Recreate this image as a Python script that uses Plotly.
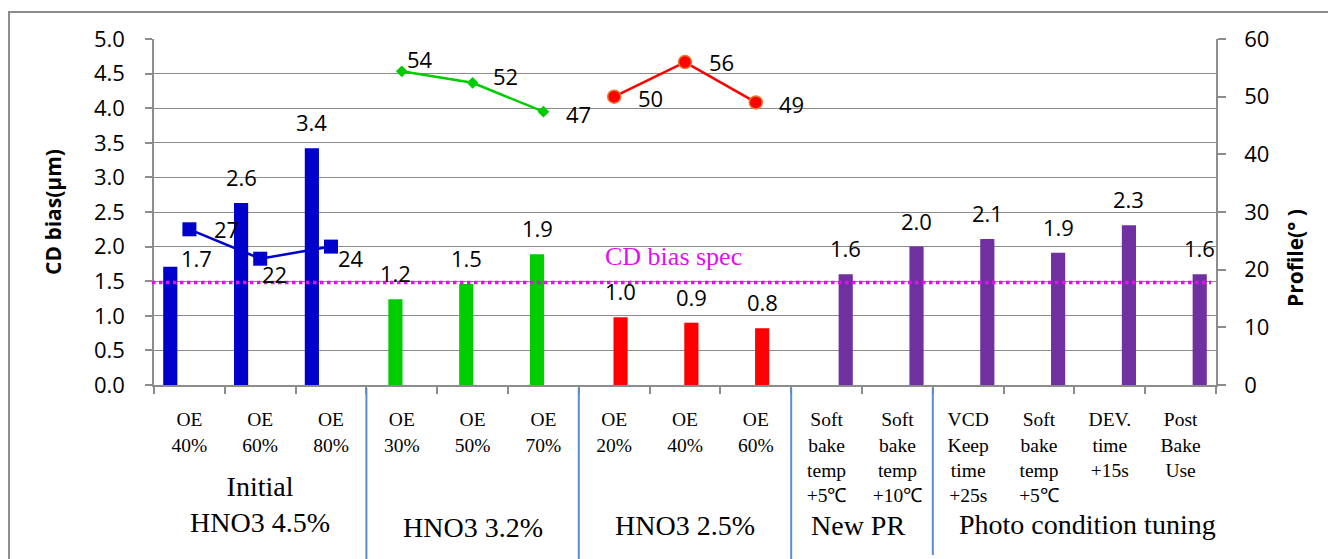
import plotly.graph_objects as go

# ---------------- data ----------------
categories = [
    "OE<br>40%", "OE<br>60%", "OE<br>80%",
    "OE<br>30%", "OE<br>50%", "OE<br>70%",
    "OE<br>20%", "OE<br>40%", "OE<br>60%",
    "Soft<br>bake<br>temp<br>+5℃", "Soft<br>bake<br>temp<br>+10℃",
    "VCD<br>Keep<br>time<br>+25s", "Soft<br>bake<br>temp<br>+5℃",
    "DEV.<br>time<br>+15s", "Post<br>Bake<br>Use",
]
group_names = ["Initial<br>HNO3 4.5%", "HNO3 3.2%", "HNO3 2.5%", "New PR", "Photo condition tuning"]
group_sizes = [3, 3, 3, 2, 4]

cd_bias_hno3_45 = [1.71, 2.63, 3.42]
cd_bias_hno3_32 = [1.24, 1.46, 1.89]
cd_bias_hno3_25 = [0.98, 0.90, 0.82]
cd_bias_pr_photo = [1.60, 2.00, 2.11, 1.91, 2.31, 1.60]

profile_hno3_45 = [27, 21.9, 24]
profile_hno3_32 = [54.4, 52.4, 47.4]
profile_hno3_25 = [50, 56, 49]

cd_bias_spec = 1.48
spec_label = "CD bias spec"

# ---------------- layout constants ----------------
W, H = 1336, 559
PAGE_OFF = 8                      # default body margin of the html page
PL, PR_, PT, PB = 154, 1216, 39, 385   # plot area in page pixels
L, T = PL - PAGE_OFF, PT - PAGE_OFF
R, B = W - (PR_ - PAGE_OFF), H - (PB - PAGE_OFF)
PW, PH = PR_ - PL, PB - PT
BARGAP = 0.28
N_BAR = 4
SLOT = (1 - BARGAP) / N_BAR
BAR_W = 0.2

NUM_FONT = "Open Sans"
SERIF = "Liberation Serif"


def pxx(px):
    return (px - PL) / PW


def pxy(py):
    return (PB - py) / PH


starts = [sum(group_sizes[:i]) for i in range(len(group_sizes))]
idx_g = [list(range(s, s + n)) for s, n in zip(starts, group_sizes)]
idx_pr_photo = idx_g[3] + idx_g[4]

bar_series = [
    (cd_bias_hno3_45, idx_g[0], "#0000CC"),
    (cd_bias_hno3_32, idx_g[1], "#00CC00"),
    (cd_bias_hno3_25, idx_g[2], "#FF0000"),
    (cd_bias_pr_photo, idx_pr_photo, "#7030A0"),
]
line_series = [
    (profile_hno3_45, idx_g[0], "#0000CC", "square", 14, "#0000CC", 0),
    (profile_hno3_32, idx_g[1], "#00CC00", "diamond", 9, "#00CC00", 0),
    (profile_hno3_25, idx_g[2], "#FF0000", "circle", 13, "#E8782A", 1.5),
]

# label nudges (px) : style only
bar_nudge = {(0, 0): (26, -17)}
line_nudge = {
    (0, 0): (37, 0), (0, 1): (14, -15), (0, 2): (20, -11),
    (1, 0): (18, 12), (1, 1): (33, 7), (1, 2): (35, -2),
    (2, 0): (36, -1), (2, 1): (36, 0), (2, 2): (36, -2),
}

fig = go.Figure()
annotations = []

for k, (vals, idx, color) in enumerate(bar_series):
    center = -(1 - BARGAP) / 2 + SLOT * (k + 0.5)
    fig.add_trace(go.Bar(x=idx, y=vals, width=BAR_W, offset=center - BAR_W / 2,
                         marker=dict(color=color, line=dict(width=0)),
                         yaxis="y", showlegend=False, hoverinfo="x+y"))
    for j, (i, v) in enumerate(zip(idx, vals)):
        dx, dy = bar_nudge.get((k, j), (0, 0))
        annotations.append(dict(x=i + center, y=v, xref="x", yref="y", text=f"{v:.1f}",
                                showarrow=False, xanchor="center", yanchor="middle",
                                xshift=dx, yshift=26 + dy,
                                font=dict(family=NUM_FONT, size=22, color="black")))

for k, (vals, idx, color, sym, size, mline, mlw) in enumerate(line_series):
    fig.add_trace(go.Scatter(x=idx, y=vals, mode="lines+markers", yaxis="y2",
                             line=dict(color=color, width=2.5),
                             marker=dict(symbol=sym, size=size, color=color,
                                         line=dict(color=mline, width=mlw)),
                             showlegend=False))
    for j, (i, v) in enumerate(zip(idx, vals)):
        dx, dy = line_nudge.get((k, j), (36, 0))
        annotations.append(dict(x=i, y=v, xref="x", yref="y2", text=f"{v:.0f}",
                                showarrow=False, xanchor="center", yanchor="middle",
                                xshift=dx, yshift=dy,
                                font=dict(family=NUM_FONT, size=22, color="black")))

# group labels
group_label_py = [504, 527, 525, 525, 524]
group_label_dx = [0, 0, 0, -4, 13]
for g, name in enumerate(group_names):
    cx = starts[g] + (group_sizes[g] - 1) / 2
    annotations.append(dict(x=cx, y=pxy(group_label_py[g]), xref="x", yref="paper",
                            text=name, showarrow=False, xanchor="center", yanchor="middle",
                            xshift=group_label_dx[g],
                            font=dict(family=SERIF, size=28, color="black")))

# spec label
annotations.append(dict(x=6.84, y=cd_bias_spec, xref="x", yref="y", text=spec_label,
                        showarrow=False, xanchor="center", yanchor="middle", yshift=26,
                        font=dict(family=SERIF, size=26, color="#E010F0")))

# axis titles
annotations.append(dict(x=pxx(53), y=0.5, xref="paper", yref="paper", text="<b>CD bias(μm)</b>",
                        showarrow=False, textangle=-90, xanchor="center", yanchor="middle",
                        font=dict(family=NUM_FONT, size=21, color="black")))
annotations.append(dict(x=pxx(1295), y=pxy(258), xref="paper", yref="paper", text="<b>Profile(° )</b>",
                        showarrow=False, textangle=-90, xanchor="center", yanchor="middle",
                        font=dict(family=NUM_FONT, size=21, color="black")))

shapes = []
# spec line
shapes.append(dict(type="line", xref="paper", yref="y", x0=pxx(152), x1=pxx(1211),
                   y0=cd_bias_spec, y1=cd_bias_spec,
                   line=dict(color="#E010F0", width=3.5, dash="dot")))
# group dividers
div_end = [575, 575, 575, 555]
for g in range(1, len(group_sizes)):
    bx = starts[g] - 0.5
    shapes.append(dict(type="line", xref="x", yref="paper", x0=bx, x1=bx,
                       y0=pxy(388), y1=pxy(div_end[g - 1]),
                       line=dict(color="#5B8DCB", width=2)))
# outer frame
shapes.append(dict(type="rect", xref="paper", yref="paper", x0=pxx(9), x1=pxx(1360),
                   y0=pxy(600), y1=pxy(12), line=dict(color="#8C8C8C", width=2),
                   fillcolor="rgba(0,0,0,0)"))

GRID = "#8C8C8C"
fig.update_layout(
    width=W, height=H,
    margin=dict(l=L, r=R, t=T, b=B, autoexpand=False),
    paper_bgcolor="white", plot_bgcolor="white",
    barmode="overlay",
    showlegend=False,
    annotations=annotations, shapes=shapes,
    xaxis=dict(range=[-0.5, len(categories) - 0.5], tickmode="array",
               tickvals=list(range(len(categories))), ticktext=categories,
               ticks="", showgrid=False, zeroline=False,
               showline=True, linecolor=GRID, linewidth=1.5,
               tickfont=dict(family=SERIF, size=19.5, color="black"),
               ticklabelstandoff=16,
               minor=dict(tickmode="array",
                          tickvals=[i - 0.5 for i in range(len(categories) + 1)],
                          ticks="outside", ticklen=7, tickcolor=GRID, tickwidth=1.5,
                          showgrid=False)),
    yaxis=dict(range=[0, 5], tick0=0, dtick=0.5, tickformat=".1f",
               showgrid=True, gridcolor=GRID, gridwidth=1.3, zeroline=False,
               showline=True, linecolor=GRID, linewidth=1.5,
               ticks="outside", ticklen=7, tickcolor=GRID, tickwidth=1.5,
               ticklabelstandoff=16,
               tickfont=dict(family=NUM_FONT, size=22, color="black")),
    yaxis2=dict(range=[0, 60], tick0=0, dtick=10, overlaying="y", side="right",
                showgrid=False, zeroline=False,
                showline=True, linecolor=GRID, linewidth=1.5,
                ticks="outside", ticklen=8, tickcolor=GRID, tickwidth=1.5,
                ticklabelstandoff=14,
                tickfont=dict(family=NUM_FONT, size=22, color="black")),
)

fig.write_html("out.html")
